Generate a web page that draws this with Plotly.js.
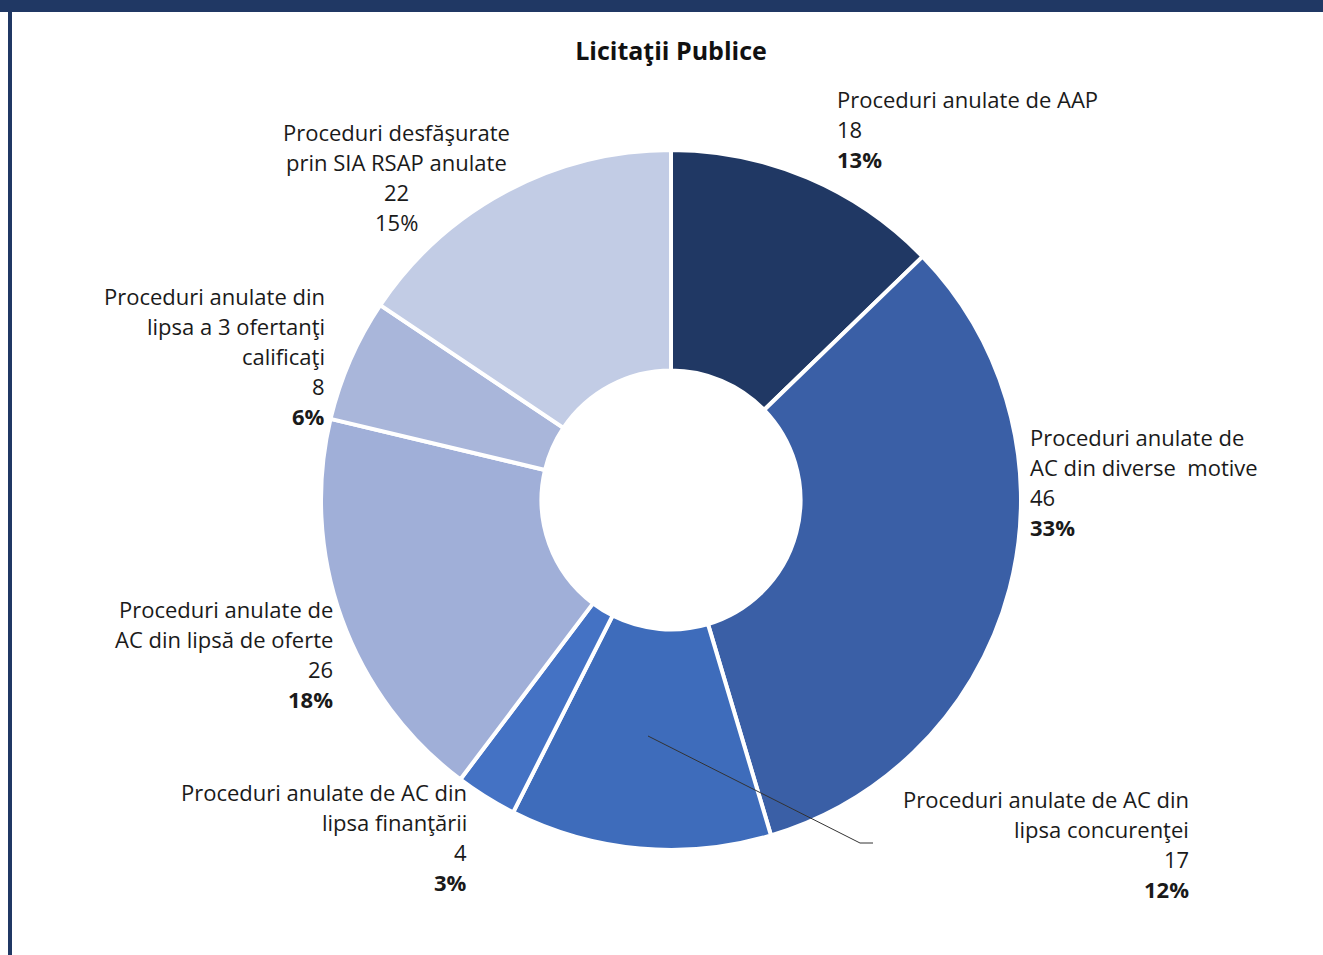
<!DOCTYPE html>
<html>
<head>
<meta charset="utf-8">
<script src="https://cdn.plot.ly/plotly-3.0.1.min.js"></script>
<style>
html,body{margin:0;padding:0;background:#fff;}
#chart{width:1323px;height:955px;}
</style>
</head>
<body>
<div id="chart"></div>
<script>
// ---- data ----
const categories = [
  "Proceduri anulate de AAP",
  "Proceduri anulate de AC din diverse  motive",
  "Proceduri anulate de AC din lipsa concurenţei",
  "Proceduri anulate de AC din lipsa finanţării",
  "Proceduri anulate de AC din lipsă de oferte",
  "Proceduri anulate din lipsa a 3 ofertanţi calificaţi",
  "Proceduri desfăşurate prin SIA RSAP anulate"
];
const values = [18, 46, 17, 4, 26, 8, 22];
const percentLabels = ["13%", "33%", "12%", "3%", "18%", "6%", "15%"];
const labelLines = [
  ["Proceduri anulate de AAP"],
  ["Proceduri anulate de", "AC din diverse  motive"],
  ["Proceduri anulate de AC din", "lipsa concurenţei"],
  ["Proceduri anulate de AC din", "lipsa finanţării"],
  ["Proceduri anulate de", "AC din lipsă de oferte"],
  ["Proceduri anulate din", "lipsa a 3 ofertanţi", "calificaţi"],
  ["Proceduri desfăşurate", "prin SIA RSAP anulate"]
];
const percentBold = [true, true, true, true, true, true, false];
const colors = ["#203864", "#3A5FA6", "#3E6CBB", "#4472C4", "#A0AFD8", "#A9B6DA", "#C2CCE5"];

// ---- layout helpers ----
const W = 1323, H = 955;
const px = x => x / W;
const py = y => 1 - y / H;

// label placement (anchor x, first line y, alignment) in pixels
const labelPos = [
  {x: 835, y: 99, anchor: "left"},
  {x: 1028, y: 437, anchor: "left"},
  {x: 1191, y: 799, anchor: "right"},
  {x: 469, y: 792, anchor: "right"},
  {x: 335, y: 609, anchor: "right"},
  {x: 327, y: 296, anchor: "right"},
  {x: 397, y: 132, anchor: "center"}
];
const lineGap = 30;
const fontFam = "'Open Sans', 'Noto Sans', sans-serif";
const fontSize = 22;

const annotations = [];
labelLines.forEach((lines, i) => {
  const p = labelPos[i];
  const all = lines.concat([String(values[i]), percentBold[i] ? "<b>" + percentLabels[i] + "</b>" : percentLabels[i]]);
  all.forEach((t, k) => {
    annotations.push({
      xref: "paper", yref: "paper",
      x: px(p.x), y: py(p.y + k * lineGap),
      xanchor: p.anchor, yanchor: "middle",
      text: t, showarrow: false, align: p.anchor,
      font: {family: fontFam, size: fontSize, color: "#1a1a1a"}
    });
  });
});

const cx = 671, cy = 500, R = 350;
const trace = {
  type: "pie",
  labels: categories,
  values: values,
  sort: false,
  direction: "clockwise",
  rotation: 0,
  hole: 0.37,
  textinfo: "none",
  hoverinfo: "label+value+percent",
  marker: {colors: colors, line: {color: "#ffffff", width: 4}},
  domain: {x: [px(cx - R), px(cx + R)], y: [py(cy + R), py(cy - R)]},
  showlegend: false
};

const layout = {
  width: W, height: H,
  margin: {l: 0, r: 0, t: 0, b: 0},
  paper_bgcolor: "#ffffff",
  showlegend: false,
  title: {
    text: "<b>Licitaţii Publice</b>",
    x: px(671), xanchor: "center",
    y: py(51), yanchor: "middle",
    font: {family: fontFam, size: 25, color: "#111"}
  },
  annotations: annotations,
  shapes: [
    {type: "rect", xref: "paper", yref: "paper", x0: 0, x1: 1, y0: py(12), y1: 1,
     fillcolor: "#203864", line: {width: 0}, layer: "below"},
    {type: "rect", xref: "paper", yref: "paper", x0: px(8), x1: px(12), y0: 0, y1: 1,
     fillcolor: "#203864", line: {width: 0}, layer: "below"},
    {type: "path", xref: "paper", yref: "paper",
     path: "M " + px(648) + "," + py(736) + " L " + px(860) + "," + py(843) + " L " + px(873) + "," + py(843),
     line: {color: "#333333", width: 1}, layer: "above"}
  ]
};

Plotly.newPlot("chart", [trace], layout, {displayModeBar: false, staticPlot: true});
</script>
</body>
</html>
